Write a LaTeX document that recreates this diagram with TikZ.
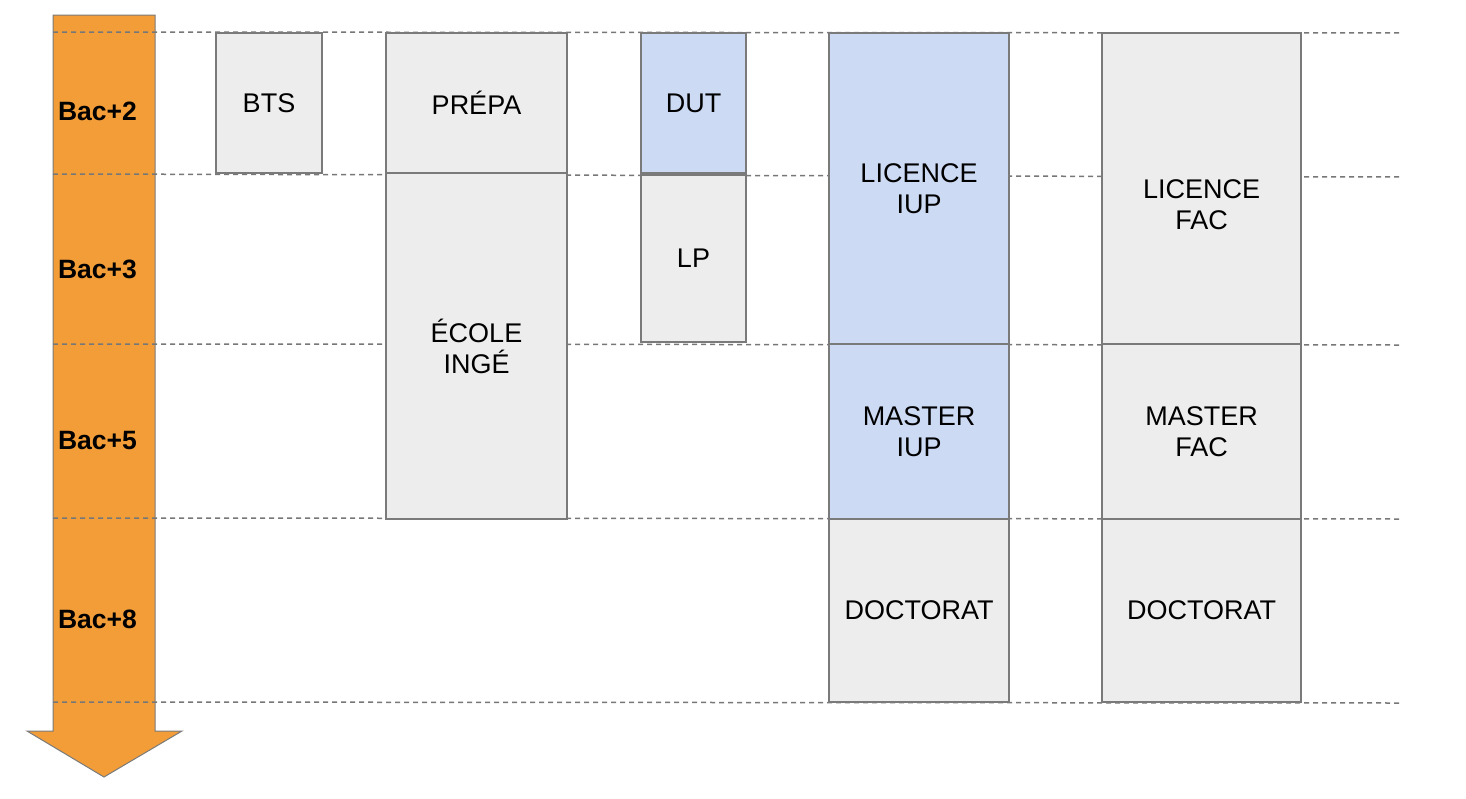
\documentclass[tikz,border=0pt]{standalone}
\usepackage{fontspec}
\setmainfont{Liberation Sans}
\definecolor{orangefill}{HTML}{F29D38}
\definecolor{grayfill}{HTML}{EDEDED}
\definecolor{bluefill}{HTML}{CCDAF4}
\definecolor{edgegray}{HTML}{7A7A7A}
\definecolor{dashgray}{HTML}{777777}
\begin{document}
\begin{tikzpicture}[x=1pt,y=-1pt,
  box/.style={draw=edgegray, line width=1.5pt, fill=grayfill, inner sep=0pt, outer sep=0pt,
    font=\fontsize{27}{31}\selectfont, align=center, text=black},
  bluebox/.style={box, fill=bluefill},
  txt/.style={inner sep=0pt, font=\fontsize{27}{31}\selectfont, align=center, text=black},
  level/.style={inner sep=0pt, font=\fontsize{26.5}{30}\selectfont\bfseries, text=black},
  guide/.style={draw=dashgray, line width=1.5pt, dash pattern=on 5pt off 4pt}]
\useasboundingbox (0,0) rectangle (1466,798);
% guide lines
\coordinate (g1a) at (53,32);  \coordinate (g1b) at (1402,33);
\coordinate (g2a) at (53,174); \coordinate (g2b) at (1402,177);
\coordinate (g3a) at (53,344); \coordinate (g3b) at (1402,345);
\coordinate (g4a) at (53,518); \coordinate (g4b) at (1402,519);
\coordinate (g5a) at (53,702); \coordinate (g5b) at (1402,703);
% arrow
\draw[draw=edgegray, line width=1pt, fill=orangefill]
  (53,15) -- (155,15) -- (155,731) -- (182,731) -- (104,777) -- (27,731) -- (53,731) -- cycle;
\draw[guide] (g1a) -- (g1b);
\draw[guide] (g2a) -- (g2b);
\draw[guide] (g3a) -- (g3b);
\draw[guide] (g4a) -- (g4b);
\draw[guide] (g5a) -- (g5b);
% level labels
\node[level] (b2) at (97.5,111) {Bac+2};
\node[level] (b3) at (97.5,269) {Bac+3};
\node[level] (b5) at (97.5,441) {Bac+5};
\node[level] (b8) at (97.5,619) {Bac+8};
% boxes
\node[box, minimum width=106pt, minimum height=140pt] (bts) at (269,103) {BTS};
\node[box, minimum width=181pt, minimum height=140pt] (prepa) at (476.5,103) {PRÉPA};
\node[box, minimum width=181pt, minimum height=346pt] (ecole) at (476.5,346) {ÉCOLE\\INGÉ};
\node[box, minimum width=105pt, minimum height=167pt] (lp) at (693.5,258.5) {LP};
\node[bluebox, minimum width=105pt, minimum height=140pt] (dut) at (693.5,103) {DUT};
\node[bluebox, minimum width=180pt, minimum height=311pt] (liup) at (919,188.5) {LICENCE\\IUP};
\node[bluebox, minimum width=180pt, minimum height=175pt] (miup) at (919,431.5) {MASTER\\IUP};
\node[box, minimum width=180pt, minimum height=183pt] (diup) at (919,610.5) {DOCTORAT};
\node[box, minimum width=199pt, minimum height=311pt] (lfac) at (1201.5,188.5) {};
\node[txt] (lfact) at (1201.5,205) {LICENCE\\FAC};
\node[box, minimum width=199pt, minimum height=175pt] (mfac) at (1201.5,431.5) {MASTER\\FAC};
\node[box, minimum width=199pt, minimum height=183pt] (dfac) at (1201.5,610.5) {DOCTORAT};
\end{tikzpicture}
\end{document}
